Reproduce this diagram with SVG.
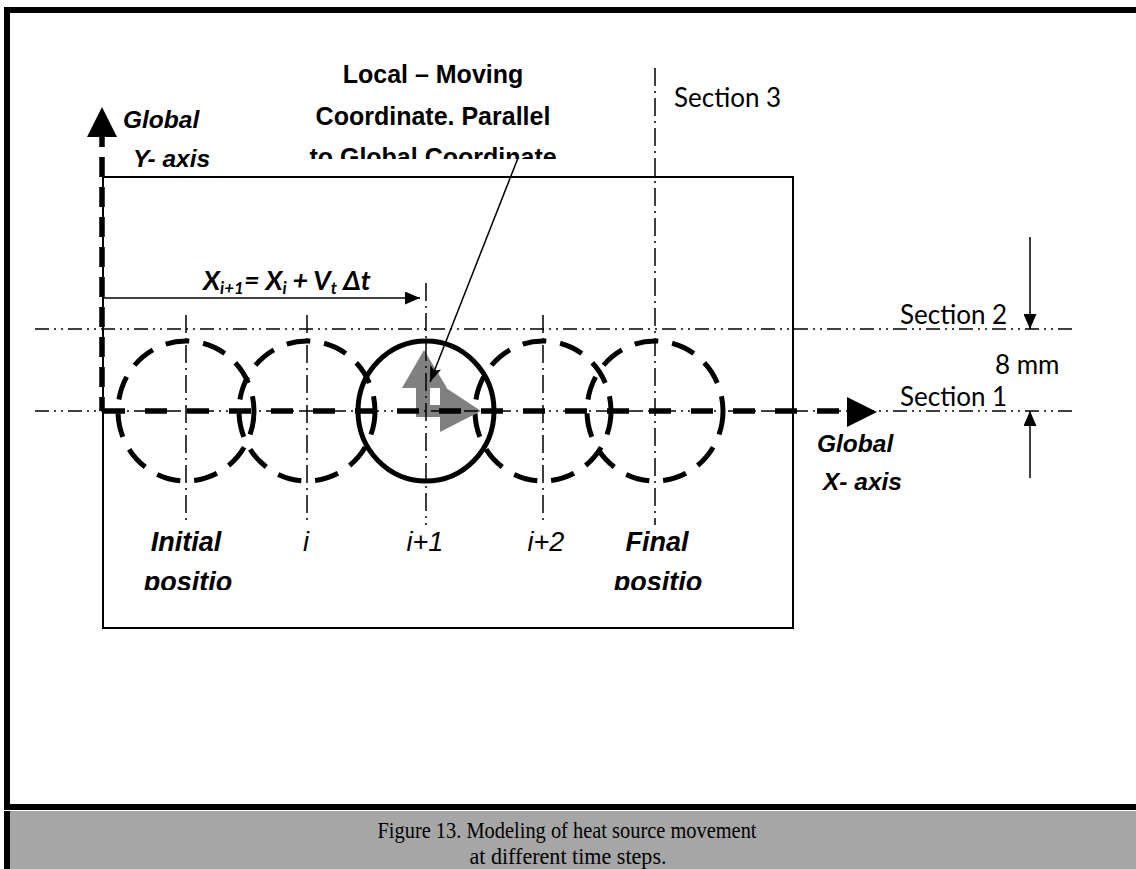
<svg xmlns="http://www.w3.org/2000/svg" width="1136" height="869" viewBox="0 0 1136 869">
<style>
.cl{fill:none;stroke:#000;stroke-width:1.5;stroke-dasharray:18 5 2 5}
.sl{fill:none;stroke:#000;stroke-width:1.5;stroke-dasharray:14 5 2 5 2 5}
.dc{fill:none;stroke:#000;stroke-width:5;stroke-dasharray:24 14}
.ax{fill:none;stroke:#000;stroke-width:5.5}
.thin{fill:none;stroke:#000;stroke-width:1.5}
.lb{font-family:"Liberation Sans",Arial,sans-serif;font-weight:bold;font-size:25px;fill:#000}
.ax-t{font-family:"Liberation Sans",Arial,sans-serif;font-weight:bold;font-style:italic;font-size:24.5px;fill:#000}
.pos-b{font-family:"Liberation Sans",Arial,sans-serif;font-weight:bold;font-style:italic;font-size:27px;fill:#000}
.pos-i{font-family:"Liberation Sans",Arial,sans-serif;font-style:italic;font-size:27px;fill:#000}
.sec{font-family:Lato,"Liberation Sans",sans-serif;font-size:26px;fill:#000}
.frm{font-family:Lato,"Liberation Sans",sans-serif;font-weight:bold;font-style:italic;font-size:27px;fill:#000}
.cap{font-family:"Liberation Serif","Times New Roman",serif;font-size:24px;fill:#000}
</style>
<defs>
<marker id="lead" viewBox="0 0 16 12" refX="16" refY="6" markerWidth="16" markerHeight="12" markerUnits="userSpaceOnUse" orient="auto">
<path d="M0,0 L16,6 L0,12 L4,6 z" fill="#000"/>
</marker>
<marker id="tri" viewBox="0 0 15 13" refX="15" refY="6.5" markerWidth="15" markerHeight="13" markerUnits="userSpaceOnUse" orient="auto">
<path d="M0,0 L15,6.5 L0,13 z" fill="#000"/>
</marker>
<clipPath id="clipTop"><rect x="0" y="0" width="1136" height="159"/></clipPath>
<clipPath id="clipBot"><rect x="0" y="0" width="1136" height="590"/></clipPath>
</defs>

<g id="frame">
<rect x="4" y="7" width="1132" height="6" fill="#000"/>
<rect x="4" y="7" width="6" height="803" fill="#000"/>
<rect x="4" y="804" width="1132" height="6" fill="#000"/>
<rect x="10" y="811" width="1126" height="58" fill="#a6a6a6"/>
<rect x="4" y="811" width="6" height="58" fill="#000"/>
</g>

<g id="plate">
<rect x="103" y="177" width="690" height="451" fill="none" stroke="#000" stroke-width="2"/>
</g>

<g id="positions">
<g id="pos-initial"><ellipse cx="186" cy="411" rx="68" ry="70" class="dc"/></g>
<g id="pos-i"><ellipse cx="307" cy="411" rx="68" ry="70" class="dc"/></g>
<g id="pos-i1"><ellipse cx="426" cy="411" rx="68" ry="70" fill="none" stroke="#000" stroke-width="5"/></g>
<g id="pos-i2"><ellipse cx="543" cy="411" rx="68" ry="70" class="dc"/></g>
<g id="pos-final"><ellipse cx="655" cy="411" rx="68" ry="70" class="dc"/></g>
</g>

<g id="local-axes" fill="#808080">
<polygon points="424,350 447,388 430,388 430,417 416,417 416,388 402,388"/>
<polygon points="416,405 440,405 440,384 481,411 440,432 440,417 416,417"/>
</g>

<g id="connectors">
<line x1="35" y1="329" x2="1077" y2="329" class="sl"/>
<line x1="35" y1="411" x2="1077" y2="411" class="sl"/>
<line x1="186" y1="315" x2="186" y2="525" class="cl"/>
<line x1="307" y1="315" x2="307" y2="525" class="cl"/>
<line x1="426" y1="283" x2="426" y2="525" class="cl"/>
<line x1="543" y1="315" x2="543" y2="525" class="cl"/>
<line x1="655" y1="68" x2="655" y2="525" class="cl"/>
<line x1="103" y1="411" x2="848" y2="411" class="ax" stroke-dasharray="22 20"/>
<polygon points="847,397 877,412 847,427" fill="#000"/>
<line x1="102" y1="137" x2="102" y2="411" class="ax" stroke-dasharray="20 10" stroke-dashoffset="10"/>
<polygon points="102,107 117,137 87,137" fill="#000"/>
<line x1="103" y1="298" x2="420" y2="298" class="thin" marker-end="url(#tri)"/>
<line x1="1030" y1="237" x2="1030" y2="329" class="thin" marker-end="url(#tri)"/>
<line x1="1030" y1="478" x2="1030" y2="411" class="thin" marker-end="url(#tri)"/>
<line x1="518" y1="158" x2="430" y2="382" class="thin" marker-end="url(#lead)"/>
</g>

<g id="labels">
<text class="lb" x="433" y="83" text-anchor="middle">Local – Moving</text>
<text class="lb" x="433" y="124.5" text-anchor="middle">Coordinate. Parallel</text>
<text class="lb" x="433" y="166" text-anchor="middle" clip-path="url(#clipTop)">to Global Coordinate</text>
<text class="ax-t" x="123" y="128">Global</text>
<text class="ax-t" x="133" y="167">Y- axis</text>
<text class="ax-t" x="817" y="452">Global</text>
<text class="ax-t" x="823" y="490">X- axis</text>
<text class="sec" x="674" y="107">Section 3</text>
<text class="sec" x="900" y="324">Section 2</text>
<text class="sec" x="995" y="374">8 mm</text>
<text class="sec" x="900" y="406">Section 1</text>
<text class="frm" x="203" y="290">X<tspan font-size="17" dy="4">i+1</tspan><tspan dy="-4">= X</tspan><tspan font-size="17" dy="4">i</tspan><tspan dy="-4"> + V</tspan><tspan font-size="17" dy="4">t</tspan><tspan dy="-4"> Δt</tspan></text>
<text class="pos-b" x="186" y="551" text-anchor="middle">Initial</text>
<text class="pos-b" x="188" y="591" text-anchor="middle" clip-path="url(#clipBot)">positio</text>
<text class="pos-i" x="306" y="551" text-anchor="middle">i</text>
<text class="pos-i" x="425" y="551" text-anchor="middle">i+1</text>
<text class="pos-i" x="546" y="551" text-anchor="middle">i+2</text>
<text class="pos-b" x="657" y="551" text-anchor="middle">Final</text>
<text class="pos-b" x="658" y="591" text-anchor="middle" clip-path="url(#clipBot)">positio</text>
</g>

<g id="caption">
<text class="cap" x="567" y="838" text-anchor="middle" textLength="379" lengthAdjust="spacingAndGlyphs">Figure 13. Modeling of heat source movement</text>
<text class="cap" x="568" y="864" text-anchor="middle" textLength="197" lengthAdjust="spacingAndGlyphs">at different time steps.</text>
</g>
</svg>
